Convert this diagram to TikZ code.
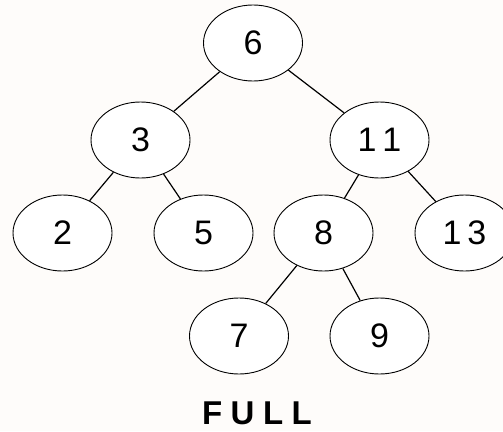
\documentclass[tikz,border=0pt]{standalone}
\usepackage{fontspec}
\setmainfont{Liberation Sans}
\usetikzlibrary{shapes.geometric}
\definecolor{bg}{RGB}{254,252,250}
\tikzset{
  tnode/.style={ellipse, draw=black, line width=0.9pt, fill=white, minimum width=99pt, minimum height=76pt, inner sep=0pt, font=\fontsize{34}{34}\selectfont},
  edge/.style={draw=black, line width=1.2pt}
}
\begin{document}
\begin{tikzpicture}[x=1pt,y=-1pt]
\fill[bg] (0,0) rectangle (503,431);
\useasboundingbox (0,0) rectangle (503,431);
\node[tnode] (n6) at (253,43) {6};
\node[tnode] (n3) at (140.5,140) {3};
\node[tnode] (n11) at (379.5,140) {1\kern6pt 1};
\node[tnode] (n2) at (62.5,233) {2};
\node[tnode] (n5) at (203.5,233) {5};
\node[tnode] (n8) at (323.5,233) {8};
\node[tnode] (n13) at (464.5,233) {1\kern6pt 3};
\node[tnode] (n7) at (239,336) {7};
\node[tnode] (n9) at (379.5,336) {9};
\node[font=\fontsize{33}{33}\bfseries\selectfont, inner sep=0pt] (full) at (257,413) {F\kern8.5pt U\kern8.5pt L\kern8.5pt L};
\draw[edge] (n6) -- (n3);
\draw[edge] (n6) -- (n11);
\draw[edge] (n3) -- (n2);
\draw[edge] (n3) -- (n5);
\draw[edge] (n11) -- (n8);
\draw[edge] (n11) -- (n13);
\draw[edge] (n8) -- (n7);
\draw[edge] (n8) -- (n9);
\end{tikzpicture}
\end{document}
